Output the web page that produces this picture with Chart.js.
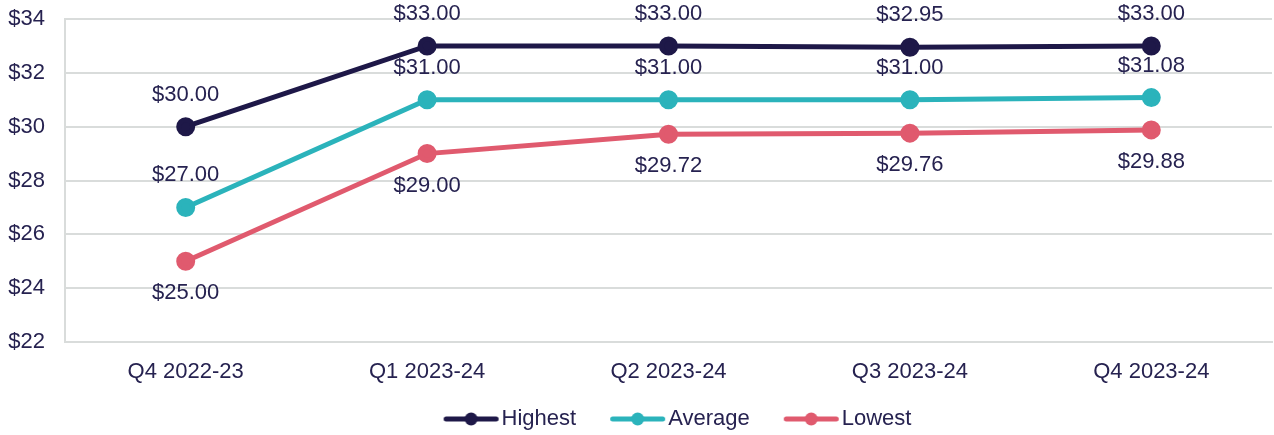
<!DOCTYPE html>
<html>
<head>
<meta charset="utf-8">
<script src="https://cdn.jsdelivr.net/npm/chart.js@4"></script>
<style>
  html, body { margin: 0; padding: 0; background: #fff; }
  #wrap { width: 1274px; height: 435px; }
</style>
</head>
<body>
<div id="wrap"><canvas id="lineChart"></canvas></div>
<script>
// datos
const quarters = ['Q4 2022-23', 'Q1 2023-24', 'Q2 2023-24', 'Q3 2023-24', 'Q4 2023-24'];
const highest = [30.00, 33.00, 33.00, 32.95, 33.00];
const average = [27.00, 31.00, 31.00, 31.00, 31.08];
const lowest = [25.00, 29.00, 29.72, 29.76, 29.88];
const yTicks = [22, 24, 26, 28, 30, 32, 34];

const textColor = '#262250';
const gridColor = '#d9dcdb';
const fontFamily = '"Liberation Sans", Arial, sans-serif';
const fontSize = 22;

const seriesColors = {
    Highest: '#1e1848',
    Average: '#2bb3bb',
    Lowest: '#e05a6e'
};

// icono de leyenda: linea con punto (canvas con margen a la izquierda)
function legendIcon(color) {
    const c = document.createElement('canvas');
    c.width = 76;
    c.height = 16;
    const g = c.getContext('2d');
    g.strokeStyle = color;
    g.lineWidth = 5;
    g.lineCap = 'round';
    g.beginPath();
    g.moveTo(21.5, 8);
    g.lineTo(71.5, 8);
    g.stroke();
    g.fillStyle = color;
    g.beginPath();
    g.arc(46.5, 8, 6.5, 0, Math.PI * 2);
    g.fill();
    return c;
}

// etiquetas de valores sobre/bajo los puntos
const valueLabels = {
    id: 'valueLabels',
    afterDatasetsDraw(chart) {
        const ctx = chart.ctx;
        ctx.save();
        ctx.font = fontSize + 'px ' + fontFamily;
        ctx.fillStyle = textColor;
        ctx.textAlign = 'center';
        ctx.textBaseline = 'middle';
        chart.data.datasets.forEach((ds, i) => {
            const meta = chart.getDatasetMeta(i);
            meta.data.forEach((pt, j) => {
                const off = ds.labelPos === 'below' ? 32 : -32;
                ctx.fillText('$' + ds.data[j].toFixed(2), pt.x, pt.y + off);
            });
        });
        ctx.restore();
    }
};

// mover la leyenda un poco a la derecha (centrada sobre el area de la grafica)
const legendShift = {
    id: 'legendShift',
    afterLayout(chart) {
        if (chart.legend) {
            chart.legend.left += 36;
            chart.legend.right += 36;
        }
    }
};

function makeDataset(label, values, labelPos) {
    const color = seriesColors[label];
    return {
        label: label,
        data: values,
        labelPos: labelPos,
        borderColor: color,
        backgroundColor: color,
        pointBackgroundColor: color,
        pointBorderColor: color,
        borderWidth: 5,
        pointRadius: 7,
        pointHoverRadius: 7,
        tension: 0,
        fill: false
    };
}

const chart = new Chart(document.getElementById('lineChart'), {
    type: 'line',
    data: {
        labels: quarters,
        datasets: [
            makeDataset('Highest', highest, 'above'),
            makeDataset('Average', average, 'above'),
            makeDataset('Lowest', lowest, 'below')
        ]
    },
    options: {
        responsive: true,
        maintainAspectRatio: false,
        animation: false,
        layout: {
            autoPadding: false,
            padding: { top: 19, right: 2, bottom: -5, left: 2 }
        },
        scales: {
            x: {
                offset: true,
                afterFit(axis) {
                    axis.paddingLeft = 0;
                    axis.paddingRight = 0;
                    axis.height = 41;
                },
                grid: { display: false, drawTicks: false },
                border: { display: true, color: gridColor, width: 2 },
                ticks: {
                    color: textColor,
                    font: { size: fontSize, family: fontFamily },
                    padding: 17
                }
            },
            y: {
                min: 22,
                max: 34,
                afterBuildTicks(axis) {
                    axis.ticks = yTicks.map(v => ({ value: v }));
                },
                afterFit(axis) {
                    axis.width = 63;
                    axis.paddingTop = 0;
                    axis.paddingBottom = 0;
                },
                grid: { color: gridColor, lineWidth: 2, drawTicks: false },
                border: { display: true, color: gridColor, width: 2 },
                ticks: {
                    color: textColor,
                    font: { size: fontSize, family: fontFamily },
                    padding: 20,
                    callback: v => '$' + v
                }
            }
        },
        plugins: {
            legend: {
                display: true,
                position: 'bottom',
                labels: {
                    usePointStyle: true,
                    pointStyleWidth: 56,
                    color: textColor,
                    font: { size: fontSize, family: fontFamily },
                    padding: 25,
                    generateLabels(chart) {
                        return chart.data.datasets.map((ds, i) => ({
                            text: ds.label,
                            fontColor: textColor,
                            pointStyle: legendIcon(ds.borderColor),
                            datasetIndex: i,
                            hidden: false,
                            lineWidth: 0
                        }));
                    }
                }
            },
            tooltip: { enabled: false }
        }
    },
    plugins: [valueLabels, legendShift]
});
</script>
</body>
</html>
